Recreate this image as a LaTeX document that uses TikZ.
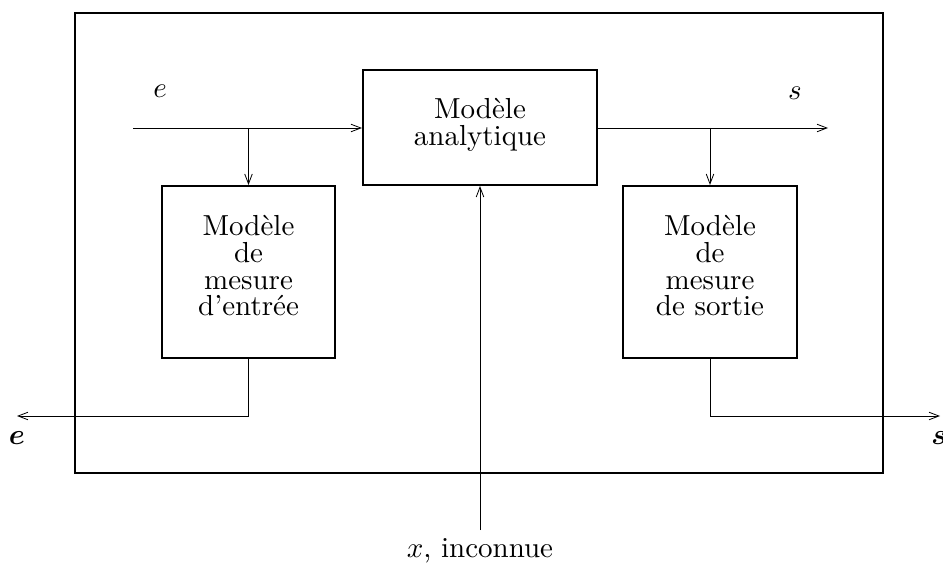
\documentclass[tikz,border=0pt]{standalone}
\usepackage{bm}
\usetikzlibrary{arrows.meta}
\begin{document}
\begin{tikzpicture}[x=0.345pt,y=-0.345pt,
  box/.style={draw,line width=0.7pt,rectangle,inner sep=0pt,align=center,font=\fontsize{10pt}{9.2pt}\selectfont},
  conn/.style={line width=0.28pt,-{Straight Barb[length=3.4pt,width=2.6pt]}},
  lab/.style={inner sep=0pt,font=\fontsize{10pt}{12pt}\selectfont}]
\useasboundingbox (0,0) rectangle (943,566);
\node[draw,line width=0.7pt,rectangle,minimum width=808*0.345pt,minimum height=460*0.345pt,inner sep=0pt] (frame) at (479,243) {};
\node[box,minimum width=234*0.345pt,minimum height=115*0.345pt] (cbox) at (480,127.5) {};
\node[box,minimum width=173*0.345pt,minimum height=172*0.345pt] (lbox) at (248.5,272) {};
\node[box,minimum width=174*0.345pt,minimum height=172*0.345pt] (rbox) at (710,272) {};
\node[box,draw=none,anchor=center] (ctext) at (480,125) {Modèle\\analytique};
\node[box,draw=none,anchor=center] (ltext) at (248.5,266) {Modèle\\de\\mesure\\d'entrée};
\node[box,draw=none,anchor=center] (rtext) at (710,266) {Modèle\\de\\mesure\\de sortie};
\coordinate (ein) at (133,128);
\coordinate (sout) at (828,128);
\coordinate (eout) at (17,416);
\coordinate (sout2) at (940,416);
\coordinate (xin) at (480,530);
\draw[conn] (ein) -- (cbox.west |- ein);
\draw[conn] (lbox.north |- ein) -- (lbox.north);
\draw[conn] (cbox.east |- sout) -- (sout);
\draw[conn] (rbox.north |- sout) -- (rbox.north);
\draw[conn] (lbox.south) |- (eout);
\draw[conn] (rbox.south) |- (sout2);
\draw[conn] (xin) -- (cbox.south);
\node[lab] (le) at (160,91) {$e$};
\node[lab] (ls) at (795,93) {$s$};
\node[lab] (lbe) at (17,438) {$\bm{e}$};
\node[lab] (lbs) at (939,438) {$\bm{s}$};
\node[lab] (lx) at (480,551) {$x$, inconnue};
\end{tikzpicture}
\end{document}
